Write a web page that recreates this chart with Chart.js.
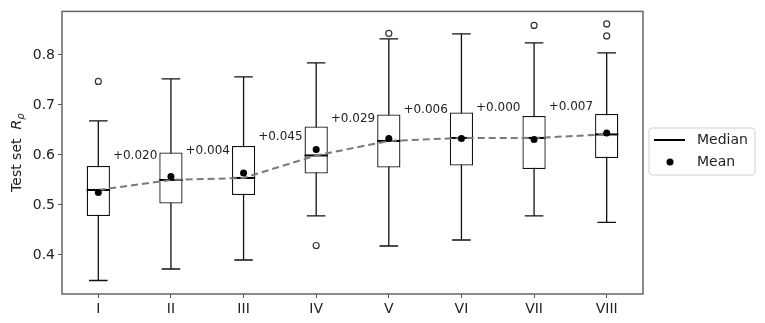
<!DOCTYPE html>
<html>
<head>
<meta charset="utf-8">
<script src="https://cdn.jsdelivr.net/npm/chart.js@4.4.1/dist/chart.umd.min.js"></script>
<style>
  html, body { margin: 0; padding: 0; background: #fff; }
  #wrap { width: 765px; height: 323px; position: relative; }
</style>
</head>
<body>
<div id="wrap"><canvas id="chart"></canvas></div>
<script>
// ===== data =====
const categories = ['I', 'II', 'III', 'IV', 'V', 'VI', 'VII', 'VIII'];
const whiskerLow = [0.349, 0.372, 0.390, 0.478, 0.418, 0.430, 0.478, 0.465];
const q1 = [0.478, 0.503, 0.520, 0.563, 0.575, 0.579, 0.572, 0.594];
const medians = [0.530, 0.550, 0.554, 0.599, 0.628, 0.634, 0.634, 0.641];
const q3 = [0.578, 0.605, 0.618, 0.657, 0.681, 0.685, 0.678, 0.682];
const whiskerHigh = [0.668, 0.752, 0.756, 0.784, 0.832, 0.842, 0.824, 0.804];
const means = [0.525, 0.557, 0.564, 0.611, 0.633, 0.633, 0.631, 0.644];
const outliers = [[0.747], [], [], [0.419], [0.843], [], [0.859], [0.862, 0.838]];
// gain labels sit left of boxes II..VIII
const gainLabels = ['+0.020', '+0.004', '+0.045', '+0.029', '+0.006', '+0.000', '+0.007'];
const gainLabelY = [0.598, 0.609, 0.636, 0.673, 0.691, 0.694, 0.696];
const yTicks = [0.4, 0.5, 0.6, 0.7, 0.8];
const yMin = 0.322, yMax = 0.887;

Chart.defaults.font.family = 'DejaVu Sans';
Chart.defaults.font.size = 14;
Chart.defaults.color = '#222';

const outlierPoints = [];
outliers.forEach((list, i) => list.forEach(v => outlierPoints.push({ x: categories[i], y: v })));

const BOX_INDEX = 0;

// whiskers/caps behind boxes, medians on top, plus labels, frame and legend
const boxExtras = {
    id: 'boxExtras',
    beforeDatasetDraw(chart, args) {
        if (args.index !== BOX_INDEX) return;
        const ctx = chart.ctx;
        const y = chart.scales.y;
        const bars = chart.getDatasetMeta(BOX_INDEX).data;
        ctx.save();
        ctx.strokeStyle = '#111';
        ctx.lineWidth = 1.3;
        bars.forEach((bar, i) => {
            const cx = bar.x;
            const cap = bar.width * 0.4;
            const lo = y.getPixelForValue(whiskerLow[i]);
            const hi = y.getPixelForValue(whiskerHigh[i]);
            ctx.beginPath();
            ctx.moveTo(cx, lo); ctx.lineTo(cx, hi);
            ctx.moveTo(cx - cap, lo); ctx.lineTo(cx + cap, lo);
            ctx.moveTo(cx - cap, hi); ctx.lineTo(cx + cap, hi);
            ctx.stroke();
        });
        ctx.restore();
    },
    afterDatasetDraw(chart, args) {
        if (args.index !== BOX_INDEX) return;
        const ctx = chart.ctx;
        const y = chart.scales.y;
        const bars = chart.getDatasetMeta(BOX_INDEX).data;
        ctx.save();
        ctx.strokeStyle = '#000';
        ctx.lineWidth = 2;
        bars.forEach((bar, i) => {
            const my = y.getPixelForValue(medians[i]);
            ctx.beginPath();
            ctx.moveTo(bar.x - bar.width / 2, my);
            ctx.lineTo(bar.x + bar.width / 2, my);
            ctx.stroke();
        });
        // gain labels
        ctx.fillStyle = '#222';
        ctx.font = '12px "DejaVu Sans"';
        ctx.textAlign = 'right';
        ctx.textBaseline = 'middle';
        gainLabels.forEach((txt, k) => {
            const bar = bars[k + 1];
            ctx.fillText(txt, bar.x - bar.width / 2 - 2, y.getPixelForValue(gainLabelY[k]));
        });
        ctx.restore();
    },
    afterDraw(chart) {
        const ctx = chart.ctx;
        const a = chart.chartArea;
        ctx.save();
        // frame
        ctx.strokeStyle = '#666';
        ctx.lineWidth = 1.5;
        ctx.strokeRect(a.left, a.top, a.right - a.left, a.bottom - a.top);

        // y title: Test set R_rho
        ctx.translate(17, (a.top + a.bottom) / 2);
        ctx.rotate(-Math.PI / 2);
        ctx.fillStyle = '#222';
        ctx.textBaseline = 'middle';
        ctx.textAlign = 'left';
        const f1 = '14px "DejaVu Sans"', f2 = 'italic 14px "DejaVu Sans"', f3 = 'italic 10px "DejaVu Sans"';
        ctx.font = f1; const w1 = ctx.measureText('Test set  ').width;
        ctx.font = f2; const w2 = ctx.measureText('R').width;
        ctx.font = f3; const w3 = ctx.measureText('ρ').width;
        let x0 = -(w1 + w2 + w3) / 2;
        ctx.font = f1; ctx.fillText('Test set  ', x0, 0);
        ctx.font = f2; ctx.fillText('R', x0 + w1, 0);
        ctx.font = f3; ctx.fillText('ρ', x0 + w1 + w2, 4);
        ctx.restore();

        // legend
        ctx.save();
        const lx = a.right + 6, ly = 128, lw = 106, lh = 47;
        ctx.fillStyle = 'rgba(255,255,255,0.9)';
        ctx.strokeStyle = '#d0d0d0';
        ctx.lineWidth = 1;
        ctx.beginPath();
        ctx.roundRect(lx, ly, lw, lh, 3);
        ctx.fill(); ctx.stroke();
        ctx.strokeStyle = '#000';
        ctx.lineWidth = 2;
        ctx.beginPath();
        ctx.moveTo(lx + 5, ly + 12); ctx.lineTo(lx + 36, ly + 12);
        ctx.stroke();
        ctx.fillStyle = '#000';
        ctx.beginPath();
        ctx.arc(lx + 21, ly + 34, 3.5, 0, Math.PI * 2);
        ctx.fill();
        ctx.fillStyle = '#222';
        ctx.font = '14px "DejaVu Sans"';
        ctx.textBaseline = 'middle';
        ctx.fillText('Median', lx + 48, ly + 12);
        ctx.fillText('Mean', lx + 48, ly + 34);
        ctx.restore();
    }
};

new Chart(document.getElementById('chart'), {
    type: 'bar',
    data: {
        labels: categories,
        datasets: [
            {
                label: 'box',
                data: q1.map((v, i) => [v, q3[i]]),
                backgroundColor: '#fff',
                borderColor: '#111',
                borderWidth: 1.3,
                borderSkipped: false,
                categoryPercentage: 1,
                barPercentage: 0.32,
                grouped: false,
                order: 4
            },
            {
                type: 'line',
                label: 'median trend',
                data: medians,
                borderColor: '#7a7a7a',
                borderWidth: 2,
                borderDash: [7, 4],
                pointRadius: 0,
                fill: false,
                order: 3
            },
            {
                type: 'line',
                label: 'outliers',
                data: outlierPoints,
                showLine: false,
                pointRadius: 3,
                pointBorderWidth: 1.2,
                pointBackgroundColor: '#fff',
                pointBorderColor: '#333',
                order: 2
            },
            {
                type: 'line',
                label: 'Mean',
                data: means,
                showLine: false,
                pointRadius: 3.5,
                pointBorderWidth: 0,
                pointBackgroundColor: '#000',
                order: 1
            }
        ]
    },
    options: {
        responsive: true,
        maintainAspectRatio: false,
        animation: false,
        layout: { padding: { top: 11, right: 122, left: 0, bottom: 0 } },
        plugins: { legend: { display: false }, tooltip: { enabled: false } },
        scales: {
            x: {
                offset: true,
                grid: { offset: false, drawOnChartArea: false, tickLength: 4, color: '#555' },
                border: { display: false },
                ticks: { color: '#222', padding: 3, font: { size: 14 } },
                afterFit: (s) => { s.height = 29; }
            },
            y: {
                min: yMin,
                max: yMax,
                grid: { drawOnChartArea: false, tickLength: 4, color: '#555' },
                border: { display: false },
                afterBuildTicks: (s) => { s.ticks = yTicks.map(v => ({ value: v })); },
                ticks: { color: '#222', padding: 3, font: { size: 14 }, callback: (v) => v.toFixed(1) },
                afterFit: (s) => { s.width = 62; }
            }
        }
    },
    plugins: [boxExtras]
});
</script>
</body>
</html>
